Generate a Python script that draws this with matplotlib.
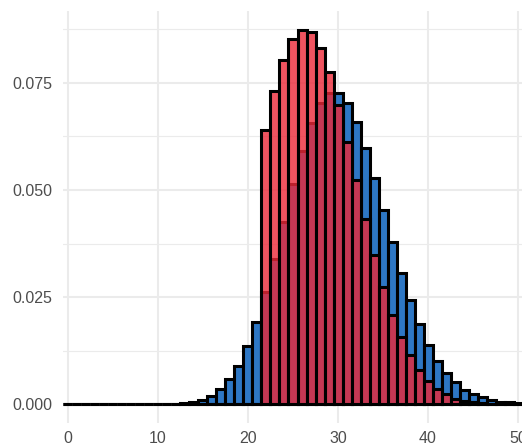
import numpy as np
import matplotlib
matplotlib.use("Agg")
import matplotlib.pyplot as plt

bins = np.arange(0, 51)

blue_density = [0] * 11 + [
    0.0001, 0.0001, 0.0002, 0.0005, 0.0010, 0.0019, 0.0036, 0.0058, 0.0090, 0.0135,
    0.0192, 0.0262, 0.0340, 0.0426, 0.0513, 0.0591, 0.0656, 0.0703, 0.0727, 0.0726,
    0.0703, 0.0658, 0.0599, 0.0527, 0.0453, 0.0378, 0.0307, 0.0243, 0.0186, 0.0139,
    0.0101, 0.0072, 0.0051, 0.0034, 0.0023, 0.0016, 0.0010, 0.0006, 0.0004, 0.0002,
]

red_density = [0] * 22 + [
    0.0640, 0.0731, 0.0804, 0.0852, 0.0874, 0.0868, 0.0831, 0.0776, 0.0699, 0.0613,
    0.0523, 0.0433, 0.0349, 0.0273, 0.0208, 0.0157, 0.0114, 0.0079, 0.0054, 0.0035,
    0.0023, 0.0013, 0.0008, 0.0004, 0.0002, 0.0001, 0, 0, 0,
]

x_ticks = [0, 10, 20, 30, 40, 50]
y_ticks = [0.0, 0.025, 0.05, 0.075]
y_minor = [0.0125, 0.0375, 0.0625, 0.0875]

plt.rcParams['font.family'] = ['Liberation Sans', 'DejaVu Sans']

fig = plt.figure(figsize=(5.22, 4.45), dpi=100)
ax = fig.add_axes([63 / 522, 22 / 445, 460 / 522, 412 / 445])

# alpha only on the fill, edges stay solid black (like ggplot)
ax.bar(bins, blue_density, width=1, facecolor="#2E77C4", edgecolor="black",
       linewidth=2.2, zorder=2)
ax.bar(bins, red_density, width=1, facecolor=(236 / 255, 41 / 255, 56 / 255, 0.8),
       edgecolor="black", linewidth=2.2, zorder=3)

ax.set_xlim(-0.55, 50.55)
ax.set_ylim(-0.0044, 0.0918)

ax.set_xticks(x_ticks)
ax.set_xticklabels([str(t) for t in x_ticks])
ax.set_yticks(y_ticks)
ax.set_yticklabels([f"{t:.3f}" for t in y_ticks])
ax.set_yticks(y_minor, minor=True)

ax.grid(which="major", color="#EBEBEB", linewidth=1.5, zorder=0)
ax.grid(which="minor", axis="y", color="#EBEBEB", linewidth=0.8, zorder=0)
ax.set_axisbelow(True)

ax.tick_params(which="both", length=0, labelsize=11.5, labelcolor="#4D4D4D")
ax.tick_params(axis="y", pad=8)
ax.tick_params(axis="x", pad=6)
for s in ax.spines.values():
    s.set_visible(False)

fig.savefig("out.png", dpi=100)
